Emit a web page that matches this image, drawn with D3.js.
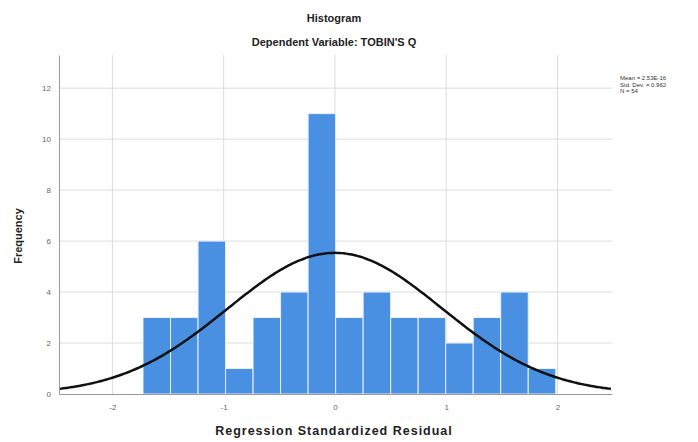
<!DOCTYPE html>
<html>
<head>
<meta charset="utf-8">
<script src="https://cdn.jsdelivr.net/npm/d3@7"></script>
<style>
  body { margin: 0; background: #fff; }
  text { font-family: Arial, "Liberation Sans", sans-serif; }
</style>
</head>
<body>
<div id="chart"></div>
<script>
// Histogram bins (start of first bin, bin width) and counts
const binStart = -1.725;
const binWidth = 0.2473;
const counts = [3, 3, 6, 1, 3, 4, 11, 3, 4, 3, 3, 2, 3, 4, 1];
const xTicks = [-2, -1, 0, 1, 2];
const yTicks = [0, 2, 4, 6, 8, 10, 12];
const stats = ["Mean = 2.53E-16", "Std. Dev. = 0.962", "N = 54"];
const mean = 0, sd = 0.962, n = 54;

const W = 698, H = 442;
const margin = { top: 55, right: 86, bottom: 48, left: 59 },
    width = W - margin.left - margin.right,
    height = H - margin.top - margin.bottom;

const svg = d3.select("#chart").append("svg")
    .attr("width", W)
    .attr("height", H);

const g = svg.append("g")
    .attr("transform", "translate(" + margin.left + "," + margin.top + ")");

const x = d3.scaleLinear().domain([-2.48, 2.49]).range([0, width]);
const y = d3.scaleLinear().domain([0, 13.3]).range([height, 0]);

// grid lines
g.selectAll(".hgrid")
    .data(yTicks.filter(d => d > 0))
    .enter().append("line")
    .attr("x1", 0).attr("x2", width)
    .attr("y1", d => y(d)).attr("y2", d => y(d))
    .attr("stroke", "#dcdcdc").attr("stroke-width", 1);

g.selectAll(".vgrid")
    .data(xTicks)
    .enter().append("line")
    .attr("x1", d => x(d)).attr("x2", d => x(d))
    .attr("y1", 0).attr("y2", height)
    .attr("stroke", "#dcdcdc").attr("stroke-width", 1);

// bars
g.selectAll(".bar")
    .data(counts)
    .enter().append("rect")
    .attr("class", "bar")
    .attr("x", (d, i) => x(binStart + i * binWidth))
    .attr("width", x(binStart + binWidth) - x(binStart))
    .attr("y", d => y(d))
    .attr("height", d => height - y(d))
    .attr("fill", "#4a90e2")
    .attr("stroke", "#e8f0fb")
    .attr("stroke-width", 1);

// normal curve
const pts = d3.range(-2.48, 2.4901, 0.02).map(v => [v,
    n * binWidth / (sd * Math.sqrt(2 * Math.PI)) * Math.exp(-0.5 * Math.pow((v - mean) / sd, 2))]);

g.append("path")
    .datum(pts)
    .attr("fill", "none")
    .attr("stroke", "#111")
    .attr("stroke-width", 2.5)
    .attr("d", d3.line().x(d => x(d[0])).y(d => y(d[1])).curve(d3.curveBasis));

// axes
const xAxis = g.append("g")
    .attr("transform", "translate(0," + height + ")")
    .call(d3.axisBottom(x).tickValues(xTicks).tickSize(0).tickPadding(10).tickFormat(d => String(d)));
const yAxis = g.append("g")
    .call(d3.axisLeft(y).tickValues(yTicks).tickSize(0).tickPadding(8).tickFormat(d => String(d)));

[xAxis, yAxis].forEach(a => {
    a.select(".domain").attr("stroke", "#999");
    a.selectAll("text").attr("fill", "#666").style("font-size", "8px");
});

// titles
svg.append("text")
    .attr("x", 334).attr("y", 22)
    .attr("text-anchor", "middle")
    .style("font-size", "11px").style("font-weight", "bold")
    .attr("fill", "#222")
    .text("Histogram");

svg.append("text")
    .attr("x", 334).attr("y", 46)
    .attr("text-anchor", "middle")
    .style("font-size", "11px").style("font-weight", "bold")
    .attr("fill", "#222")
    .text("Dependent Variable: TOBIN'S Q");

svg.append("text")
    .attr("x", 334).attr("y", 435)
    .attr("text-anchor", "middle")
    .style("font-size", "12.5px").style("font-weight", "bold")
    .style("letter-spacing", "1px")
    .attr("fill", "#222")
    .text("Regression Standardized Residual");

svg.append("text")
    .attr("transform", "translate(22,236) rotate(-90)")
    .attr("text-anchor", "middle")
    .style("font-size", "11px").style("font-weight", "bold")
    .attr("fill", "#222")
    .text("Frequency");

// stats box
svg.selectAll(".stat")
    .data(stats)
    .enter().append("text")
    .attr("x", 620)
    .attr("y", (d, i) => 80 + i * 6.5)
    .style("font-size", "6px")
    .attr("fill", "#333")
    .text(d => d);
</script>
</body>
</html>
